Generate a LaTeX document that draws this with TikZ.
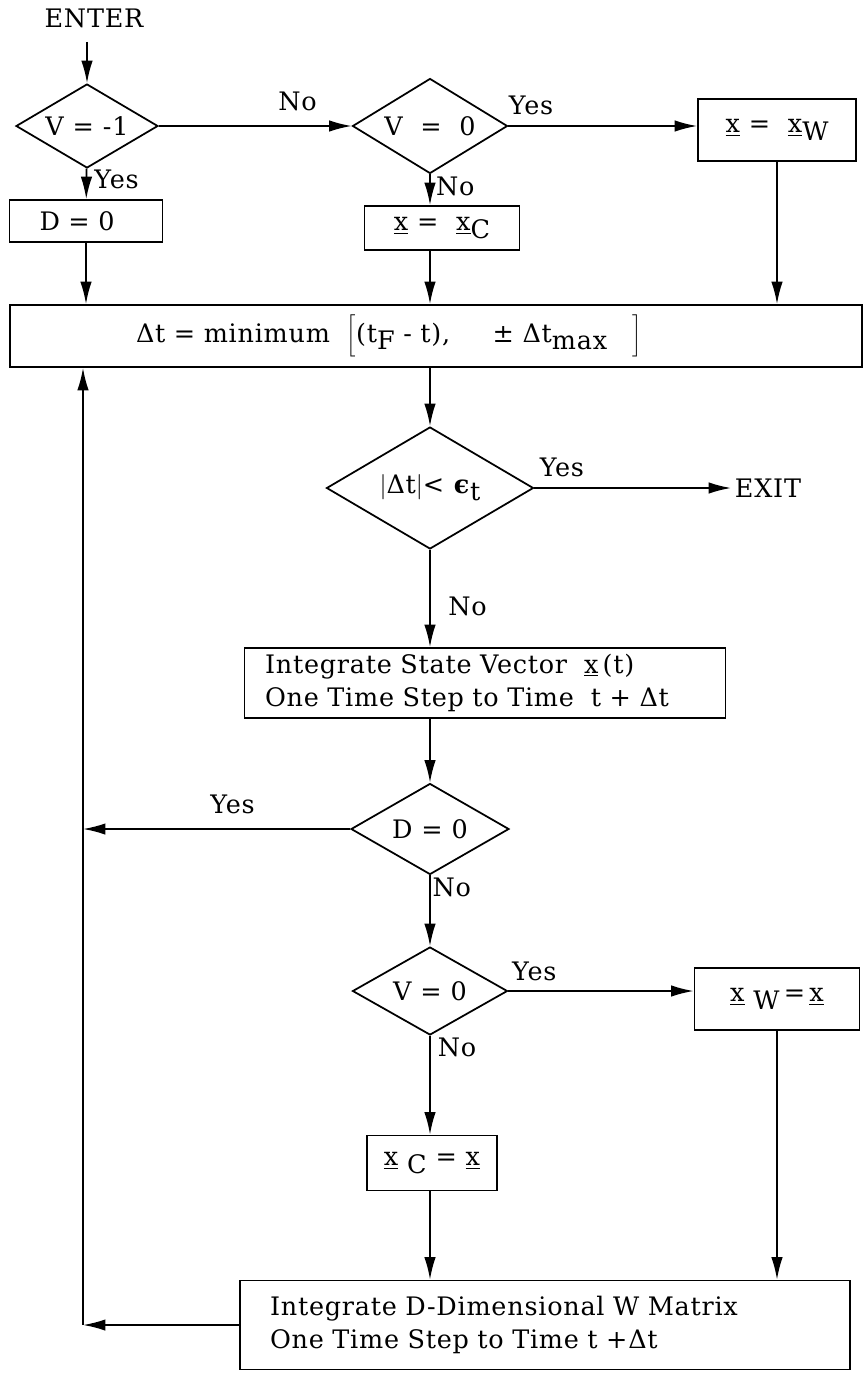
\documentclass[tikz,border=0pt]{standalone}
\usepackage{fontspec}
\setmainfont[LetterSpace=3]{DejaVu Serif}
\usepackage{tikz}
\usetikzlibrary{arrows.meta,shapes.geometric,positioning}
\newcommand{\vx}{\underline{x}}
\newcommand{\lo}[1]{\raisebox{-0.55ex}{#1}}
\tikzset{
  arr/.style={-{Latex[length=4.5mm,width=2.3mm]}, line width=1pt},
  decision/.style={diamond, aspect=2, draw, line width=1pt, inner sep=0pt, font=\fontsize{14.5}{17}\selectfont},
  block/.style={rectangle, draw, line width=1pt, inner sep=2pt, font=\fontsize{14.5}{17}\selectfont},
  lbl/.style={font=\fontsize{14.5}{17}\selectfont, inner sep=2pt},
}
\begin{document}
\begin{tikzpicture}[x=0.02cm,y=-0.02cm]
\useasboundingbox (0,0) rectangle (867,1376);
%
% top row
\node[lbl] (enter) at (94,18) {ENTER};
\node[decision, minimum width=2.84cm, minimum height=1.68cm] (v1) at (87,126) {V = -1};
\node[block, minimum width=3.06cm, minimum height=0.84cm, text width=1.86cm, align=left] (d0) at (86,221) {D = 0};
\node[decision, minimum width=3.1cm, minimum height=1.9cm] (v2) at (430,126) {V \ = \ 0};
\node[block, minimum width=3.16cm, minimum height=1.24cm] (xw) at (777,130) {\vx \ = \ \vx\lo{W}};
\node[block, minimum width=3.1cm, minimum height=0.88cm] (xc) at (442,228) {\vx \ = \ \vx\lo{C}};
%
% time step
\node[block, minimum width=17.04cm, minimum height=1.24cm, text width=12cm, align=left] (dt) at (436,336)
  {Δt = minimum \ $\bigg[$(t\lo{F} - t), \quad\ ± Δt\lo{max} \ \ $\bigg]$};
\node[decision, minimum width=4.14cm, minimum height=2.44cm] (v3) at (430,488) {$\big|$Δt$\big|$< \textbf{ϵ}\lo{t}};
\node[lbl] (exit) at (768,488) {EXIT};
\node[block, minimum width=9.62cm, minimum height=1.4cm, text width=8.8cm, align=left] (is) at (485,683)
  {Integrate State Vector \ \vx\,(t)\\[2pt]One Time Step to Time \ t + Δt};
%
% lower part
\node[decision, minimum width=3.16cm, minimum height=1.82cm] (v4) at (430,829) {D = 0};
\node[decision, minimum width=3.1cm, minimum height=1.76cm] (v5) at (430,991) {V = 0};
\node[block, minimum width=3.3cm, minimum height=1.24cm] (xwx) at (777,999) {\vx\lo{ W}\,=\,\vx};
\node[block, minimum width=2.6cm, minimum height=1.1cm] (xcx) at (432,1163) {\vx\lo{ C} = \vx};
\node[block, minimum width=12.2cm, minimum height=1.78cm, text width=11cm, align=left] (wd) at (545,1325)
  {Integrate D-Dimensional W Matrix\\[2pt]One Time Step to Time t +Δt};
\coordinate (back) at (83,1325);
%
% connectors
\draw[arr] ([yshift=-6pt]enter.south -| v1.north) -- (v1.north);
\draw[arr] (v1) -- (d0) node[lbl, pos=0, anchor=north west, xshift=2pt, yshift=2pt] {Yes};
\draw[arr] (v1) -- (v2) node[lbl, pos=.72, above=6pt] {No};
\draw[arr] (v2) -- (v2 -| xw.west) node[lbl, pos=.12, above=4pt] {Yes};
\draw[arr] (v2.south) -- (v2.south |- xc.north) node[lbl, pos=.4, right=1pt] {No};
\draw[arr] (d0) -- (d0 |- dt.north);
\draw[arr] (xc.south -| v2.south) -- (dt.north -| v2.south);
\draw[arr] (xw) -- (xw |- dt.north);
\draw[arr] (dt.south -| v3.north) -- (v3.north);
\draw[arr] (v3) -- (exit) node[lbl, pos=.14, above=4pt] {Yes};
\draw[arr] (v3) -- (v3 |- is.north) node[lbl, pos=.58, right=8pt] {No};
\draw[arr] (is.south -| v4.north) -- (v4.north);
\draw[arr] (v4) -- (v4 -| back) node[lbl, pos=.44, above=6pt] {Yes};
\draw[arr] (v4) -- (v5) node[lbl, pos=0, anchor=north west, inner sep=1pt] {No};
\draw[arr] (v5) -- (v5 -| xwx.west) node[lbl, pos=.14, above=3pt] {Yes};
\draw[arr] (v5) -- (v5 |- xcx.north) node[lbl, pos=.12, right=2pt] {No};
\draw[arr] (xcx.south -| v5.south) -- (wd.north -| v5.south);
\draw[arr] (xwx) -- (xwx |- wd.north);
\draw[arr] (wd) -- (back);
\draw[arr] (back) -- (back |- dt.south);
%
\end{tikzpicture}
\end{document}
